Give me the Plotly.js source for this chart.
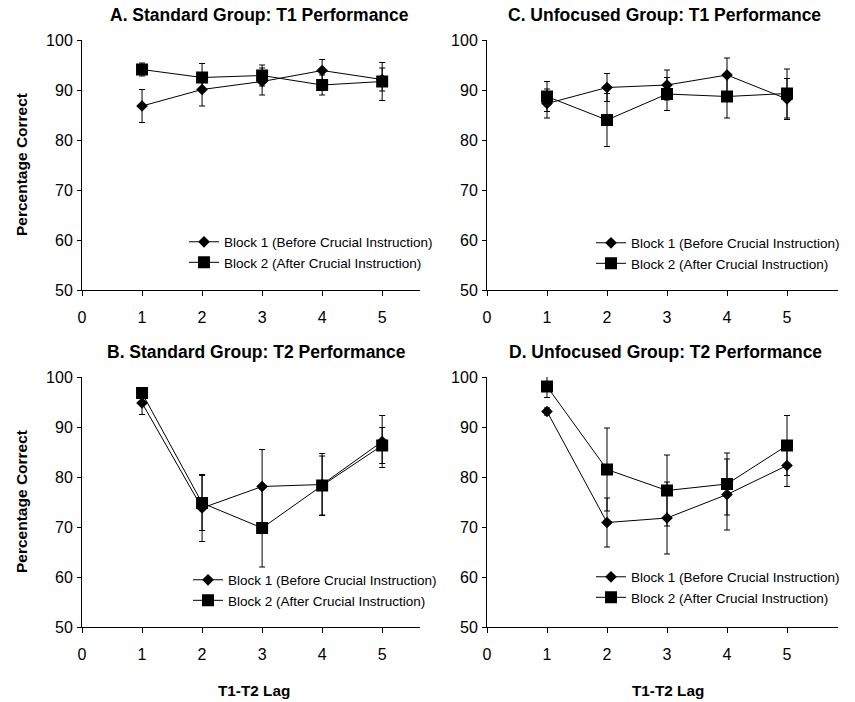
<!DOCTYPE html>
<html>
<head>
<meta charset="utf-8">
<script src="https://cdn.plot.ly/plotly-3.0.1.min.js"></script>
<style>html,body{margin:0;padding:0;background:#fff;}#chart{width:855px;height:702px;}</style>
</head>
<body>
<div id="chart"></div>
<script>
const lags = [1, 2, 3, 4, 5];
const xTicks = [0, 1, 2, 3, 4, 5];
const yTicks = [50, 60, 70, 80, 90, 100];
const seriesNames = ["Block 1 (Before Crucial Instruction)", "Block 2 (After Crucial Instruction)"];
const panelTitles = ["A. Standard Group: T1 Performance", "C. Unfocused Group: T1 Performance",
                     "B. Standard Group: T2 Performance", "D. Unfocused Group: T2 Performance"];

// Panel A: Standard T1
const aBlock1 = [86.8, 90.1, 91.7, 93.9, 92.1];
const aBlock1Err = [3.3, 3.3, 2.7, 2.2, 2.3];
const aBlock2 = [94.1, 92.5, 92.9, 91.0, 91.7];
const aBlock2Err = [1.3, 2.8, 2.1, 2.0, 3.8];
// Panel C: Unfocused T1
const cBlock1 = [87.3, 90.5, 91.0, 93.0, 88.2];
const cBlock1Err = [2.9, 2.8, 3.0, 3.4, 4.1];
const cBlock2 = [88.7, 84.0, 89.2, 88.7, 89.3];
const cBlock2Err = [3.0, 5.3, 3.3, 4.3, 4.9];
// Panel B: Standard T2
const bBlock1 = [94.8, 73.8, 78.1, 78.5, 87.1];
const bBlock1Err = [2.3, 6.7, 7.4, 6.2, 5.2];
const bBlock2 = [96.8, 74.8, 69.8, 78.3, 86.3];
const bBlock2Err = [1.0, 5.5, 7.8, 5.9, 3.6];
// Panel D: Unfocused T2
const dBlock1 = [93.1, 70.9, 71.8, 76.5, 82.3];
const dBlock1Err = [0.7, 4.9, 7.2, 7.1, 4.2];
const dBlock2 = [98.1, 81.5, 77.3, 78.6, 86.3];
const dBlock2Err = [2.2, 8.3, 7.1, 6.2, 6.0];

const FONT = "Liberation Sans, Arial, sans-serif";
const W = 855, H = 702;

const panels = [
  {xa: "x", ya: "y", leg: "legend", b1: aBlock1, e1: aBlock1Err, b2: aBlock2, e2: aBlock2Err},
  {xa: "x2", ya: "y2", leg: "legend2", b1: cBlock1, e1: cBlock1Err, b2: cBlock2, e2: cBlock2Err},
  {xa: "x3", ya: "y3", leg: "legend3", b1: bBlock1, e1: bBlock1Err, b2: bBlock2, e2: bBlock2Err},
  {xa: "x4", ya: "y4", leg: "legend4", b1: dBlock1, e1: dBlock1Err, b2: dBlock2, e2: dBlock2Err}
];

const traces = [];
panels.forEach(p => {
  [[p.b1, p.e1, "diamond", 9, seriesNames[0]], [p.b2, p.e2, "square", 12, seriesNames[1]]].forEach(s => {
    traces.push({
      x: lags, y: s[0], xaxis: p.xa, yaxis: p.ya, legend: p.leg,
      name: s[4], type: "scatter", mode: "lines+markers",
      line: {color: "black", width: 1},
      marker: {symbol: s[2], size: s[3], color: "black"},
      error_y: {type: "data", array: s[1], visible: true, color: "black", thickness: 1, width: 3},
      hoverinfo: "skip"
    });
  });
});

// pixel geometry
const colX = [[82, 420, 5.63], [487, 838, 5.85]];
const rowY = [[40, 290], [377, 627]];
function xdom(c) { return [colX[c][0] / W, colX[c][1] / W]; }
function ydom(r) { return [1 - rowY[r][1] / H, 1 - rowY[r][0] / H]; }

function xaxis(c) {
  return {
    domain: xdom(c), range: [0, colX[c][2]], tickvals: xTicks, ticktext: xTicks.map(String),
    ticks: "outside", ticklen: 5, tickcolor: "black", showline: true, linecolor: "black", linewidth: 1,
    showgrid: false, zeroline: false, tickfont: {family: FONT, size: 16, color: "black"},
    ticklabelstandoff: 8, fixedrange: true
  };
}
function yaxis(r) {
  return {
    domain: ydom(r), range: [50, 100], tickvals: yTicks, ticktext: yTicks.map(String),
    ticks: "outside", ticklen: 4, tickcolor: "black", showline: true, linecolor: "black", linewidth: 1,
    showgrid: false, zeroline: false, tickfont: {family: FONT, size: 16, color: "black"},
    ticklabelstandoff: 1, fixedrange: true
  };
}

const layout = {
  width: W, height: H, margin: {l: 0, r: 0, t: 0, b: 0},
  paper_bgcolor: "white", plot_bgcolor: "white",
  font: {family: FONT, color: "black"},
  xaxis: Object.assign(xaxis(0), {anchor: "y"}),
  yaxis: Object.assign(yaxis(0), {anchor: "x"}),
  xaxis2: Object.assign(xaxis(1), {anchor: "y2"}),
  yaxis2: Object.assign(yaxis(0), {anchor: "x2"}),
  xaxis3: Object.assign(xaxis(0), {anchor: "y3"}),
  yaxis3: Object.assign(yaxis(1), {anchor: "x3"}),
  xaxis4: Object.assign(xaxis(1), {anchor: "y4"}),
  yaxis4: Object.assign(yaxis(1), {anchor: "x4"}),
  annotations: [],
  showlegend: true
};

const legPos = [[184, 226.5], [591, 227.5], [188, 564.5], [591, 561.5]];
["legend", "legend2", "legend3", "legend4"].forEach((k, i) => {
  layout[k] = {
    x: legPos[i][0] / W, y: 1 - legPos[i][1] / H, xanchor: "left", yanchor: "top",
    bgcolor: "rgba(0,0,0,0)", borderwidth: 0, font: {family: FONT, size: 13.5, color: "black"},
    itemwidth: 30, tracegroupgap: 0
  };
});

const titlePos = [[259, 15], [664, 15], [256, 352], [665, 352]];
panelTitles.forEach((t, i) => {
  layout.annotations.push({
    text: "<b>" + t + "</b>", x: titlePos[i][0] / W, y: 1 - titlePos[i][1] / H,
    xref: "paper", yref: "paper", xanchor: "center", yanchor: "middle", showarrow: false,
    font: {family: FONT, size: 17.5, color: "black"}
  });
});
[[21, 165], [21, 502]].forEach(p => {
  layout.annotations.push({
    text: "<b>Percentage Correct</b>", x: p[0] / W, y: 1 - p[1] / H, xref: "paper", yref: "paper",
    xanchor: "center", yanchor: "middle", textangle: -90, showarrow: false,
    font: {family: FONT, size: 15.5, color: "black"}
  });
});
[[254, 690], [668, 690]].forEach(p => {
  layout.annotations.push({
    text: "<b>T1-T2 Lag</b>", x: p[0] / W, y: 1 - p[1] / H, xref: "paper", yref: "paper",
    xanchor: "center", yanchor: "middle", showarrow: false,
    font: {family: FONT, size: 15.3, color: "black"}
  });
});

Plotly.newPlot("chart", traces, layout, {displayModeBar: false, staticPlot: true});
</script>
</body>
</html>
